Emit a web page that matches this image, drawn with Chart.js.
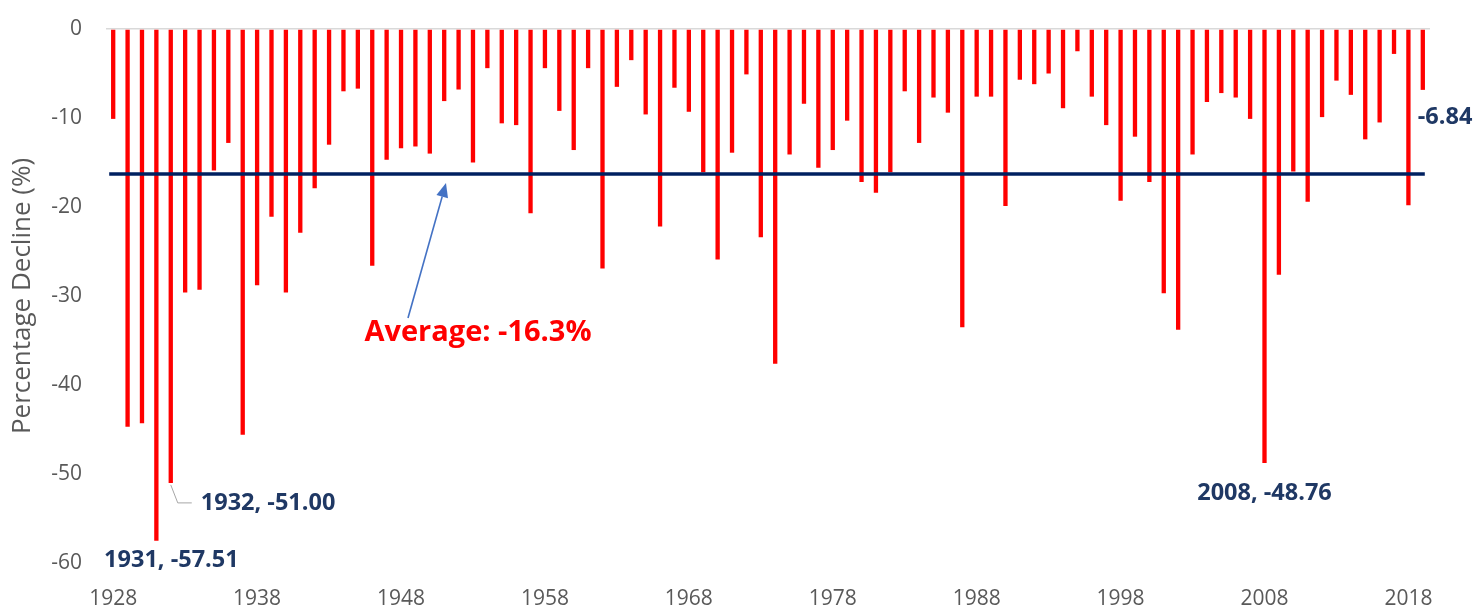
<!DOCTYPE html>
<html>
<head>
<meta charset="utf-8">
<script src="https://cdn.jsdelivr.net/npm/chart.js@4"></script>
<style>
  html, body { margin: 0; padding: 0; background: #ffffff; }
  #wrap { position: relative; width: 1475px; height: 606px; }
</style>
</head>
<body>
<div id="wrap"><canvas id="c" width="1475" height="606"></canvas></div>
<script>
// ---- Data ----
const years = ['1928','1929','1930','1931','1932','1933','1934','1935','1936','1937',
  '1938','1939','1940','1941','1942','1943','1944','1945','1946','1947',
  '1948','1949','1950','1951','1952','1953','1954','1955','1956','1957',
  '1958','1959','1960','1961','1962','1963','1964','1965','1966','1967',
  '1968','1969','1970','1971','1972','1973','1974','1975','1976','1977',
  '1978','1979','1980','1981','1982','1983','1984','1985','1986','1987',
  '1988','1989','1990','1991','1992','1993','1994','1995','1996','1997',
  '1998','1999','2000','2001','2002','2003','2004','2005','2006','2007',
  '2008','2009','2010','2011','2012','2013','2014','2015','2016','2017',
  '2018','2019'];

const declines = [-10.1,-44.7,-44.3,-57.51,-51.00,-29.6,-29.3,-15.9,-12.8,-45.6,
  -28.8,-21.1,-29.6,-22.9,-17.9,-13.0,-7.0,-6.7,-26.6,-14.7,
  -13.4,-13.2,-14.0,-8.1,-6.8,-15.0,-4.4,-10.6,-10.8,-20.7,
  -4.4,-9.2,-13.6,-4.4,-26.9,-6.5,-3.5,-9.6,-22.2,-6.6,
  -9.3,-16.1,-25.9,-13.9,-5.1,-23.4,-37.6,-14.1,-8.4,-15.6,
  -13.6,-10.3,-17.2,-18.4,-16.1,-7.0,-12.8,-7.7,-9.4,-33.5,
  -7.6,-7.6,-19.9,-5.7,-6.2,-5.0,-8.9,-2.5,-7.6,-10.8,
  -19.3,-12.1,-17.2,-29.7,-33.8,-14.1,-8.2,-7.2,-7.7,-10.1,
  -48.76,-27.6,-16.0,-19.4,-9.9,-5.8,-7.4,-12.4,-10.5,-2.8,
  -19.8,-6.84];

const averageDecline = -16.3;
const averageLabel = 'Average: -16.3%';
const xTickLabels = ['1928','1938','1948','1958','1968','1978','1988','1998','2008','2018'];
const yTickValues = [0,-10,-20,-30,-40,-50,-60];
const yAxisTitle = 'Percentage Decline (%)';
const pointLabelYears = ['1931','1932','2008','2019'];
const pointLabelTexts = ['1931, -57.51','1932, -51.00','2008, -48.76','-6.84'];

// ---- Styles ----
const FONT = "'Open Sans', 'Noto Sans', sans-serif";
const GRAY = '#595959';
const NAVY = '#1F3864';

const overlayPlugin = {
  id: 'overlay',
  afterDatasetsDraw(chart) {
    const ctx = chart.ctx;
    const ys = chart.scales.y;
    const meta = chart.getDatasetMeta(0);
    const ca = chart.chartArea;

    // average line
    const yAvg = ys.getPixelForValue(averageDecline);
    const first = meta.data[0], last = meta.data[meta.data.length - 1];
    ctx.save();
    ctx.strokeStyle = '#002060';
    ctx.lineWidth = 3.5;
    ctx.beginPath();
    ctx.moveTo(first.x - 4, yAvg);
    ctx.lineTo(last.x + 2, yAvg);
    ctx.stroke();
    ctx.restore();

    // point labels
    ctx.save();
    ctx.font = "bold 23.5px " + FONT;
    ctx.fillStyle = NAVY;
    ctx.textBaseline = 'middle';
    pointLabelYears.forEach((yr, i) => {
      const el = meta.data[years.indexOf(yr)];
      const txt = pointLabelTexts[i];
      if (yr === '1931') {
        ctx.textAlign = 'center';
        ctx.fillText(txt, el.x + 15, el.y + 19);
      } else if (yr === '1932') {
        ctx.strokeStyle = '#A6A6A6';
        ctx.lineWidth = 1;
        ctx.beginPath();
        ctx.moveTo(el.x, el.y + 2);
        ctx.lineTo(el.x + 7, el.y + 20);
        ctx.lineTo(el.x + 21, el.y + 20);
        ctx.stroke();
        ctx.textAlign = 'left';
        ctx.fillText(txt, el.x + 30, el.y + 20);
      } else if (yr === '2008') {
        ctx.textAlign = 'center';
        ctx.fillText(txt, el.x, el.y + 30);
      } else {
        ctx.textAlign = 'left';
        ctx.fillText(txt, el.x - 5, el.y + 27);
      }
    });
    ctx.restore();

    // average annotation text + arrow
    const tx = ca.left + 372, ty = ca.top + 304;
    ctx.save();
    ctx.font = "bold 29px " + FONT;
    ctx.fillStyle = '#FF0000';
    ctx.textAlign = 'center';
    ctx.textBaseline = 'middle';
    ctx.fillText(averageLabel, tx, ty);
    // arrow
    const x0 = ca.left + 302, y0 = ca.top + 289;
    const x1 = ca.left + 340, y1 = yAvg + 9;
    const ang = Math.atan2(y1 - y0, x1 - x0);
    const hl = 14, hw = 6;
    const bx = x1 - hl * Math.cos(ang), by = y1 - hl * Math.sin(ang);
    ctx.strokeStyle = '#4472C4';
    ctx.fillStyle = '#4472C4';
    ctx.lineWidth = 1.6;
    ctx.beginPath();
    ctx.moveTo(x0, y0);
    ctx.lineTo(bx, by);
    ctx.stroke();
    ctx.beginPath();
    ctx.moveTo(x1, y1);
    ctx.lineTo(bx + hw * Math.sin(ang), by - hw * Math.cos(ang));
    ctx.lineTo(bx - hw * Math.sin(ang), by + hw * Math.cos(ang));
    ctx.closePath();
    ctx.fill();
    ctx.restore();
  }
};

new Chart(document.getElementById('c'), {
  type: 'bar',
  data: {
    labels: years,
    datasets: [{
      data: declines,
      backgroundColor: '#FF0000',
      borderWidth: 0,
      barPercentage: 0.3,
      categoryPercentage: 1.0
    }]
  },
  options: {
    responsive: false,
    animation: false,
    devicePixelRatio: 1,
    layout: { padding: { top: 29, right: 45, bottom: 0, left: 0 } },
    plugins: { legend: { display: false }, tooltip: { enabled: false } },
    scales: {
      x: {
        type: 'category',
        offset: true,
        grid: { display: false, drawTicks: false },
        border: { display: false },
        ticks: {
          autoSkip: false,
          maxRotation: 0,
          minRotation: 0,
          padding: 23,
          color: GRAY,
          font: { family: FONT, size: 21 },
          callback: function (v, i) {
            const lab = years[i];
            return xTickLabels.includes(lab) ? lab : '';
          }
        },
        afterFit: (s) => { s.height = 43; s.paddingLeft = 0; s.paddingRight = 0; }
      },
      y: {
        min: -60,
        max: 0,
        grid: {
          drawTicks: false,
          color: (c) => (c.tick && c.tick.value === 0 ? '#D9D9D9' : 'rgba(0,0,0,0)'),
          lineWidth: 1.5
        },
        border: { display: false },
        afterBuildTicks: (s) => { s.ticks = yTickValues.map(v => ({ value: v })); },
        ticks: {
          padding: 24,
          color: GRAY,
          font: { family: FONT, size: 21 }
        },
        title: {
          display: true,
          text: yAxisTitle,
          color: GRAY,
          font: { family: FONT, size: 26 },
          padding: { top: 7, bottom: 0 }
        },
        afterFit: (s) => { s.width = 106; s.paddingTop = 0; s.paddingBottom = 0; }
      }
    }
  },
  plugins: [overlayPlugin]
});
</script>
</body>
</html>
